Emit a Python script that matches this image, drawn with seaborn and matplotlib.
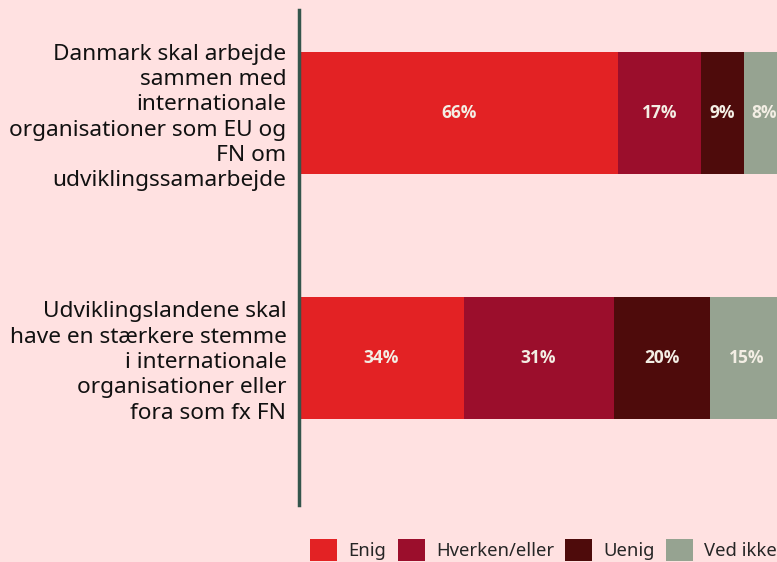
import matplotlib
matplotlib.use("Agg")
import matplotlib.pyplot as plt
import seaborn as sns
import numpy as np
import pandas as pd
from matplotlib.patches import Patch

categories = [
    "Danmark skal arbejde\nsammen med\ninternationale\norganisationer som EU og\nFN om\nudviklingssamarbejde",
    "Udviklingslandene skal\nhave en stærkere stemme\ni internationale\norganisationer eller\nfora som fx FN",
]
series = ["Enig", "Hverken/eller", "Uenig", "Ved ikke"]
enig = [66, 34]
hverken = [17, 31]
uenig = [9, 20]
ved_ikke = [8, 15]
colors = ["#E32224", "#9B0E2C", "#4E0B0B", "#96A391"]

bg = "#FFE1E1"
sns.set_theme(style="white")
plt.rcParams["font.family"] = ["Noto Sans", "DejaVu Sans"]

values = np.array([enig, hverken, uenig, ved_ikke], dtype=float)
cum = np.cumsum(values, axis=0)

fig = plt.figure(figsize=(7.77, 5.62), dpi=100, facecolor=bg)
ax = fig.add_axes([299 / 777, 1 - 505 / 562, 484 / 777, 495 / 562])
ax.set_facecolor(bg)

for i in reversed(range(len(series))):
    df = pd.DataFrame({"cat": categories, "val": cum[i]})
    sns.barplot(data=df, y="cat", x="val", color=colors[i], width=0.5,
                saturation=1, ax=ax, orient="h", linewidth=0, edgecolor="none")

for j in range(len(categories)):
    for i in range(len(series)):
        start = cum[i][j] - values[i][j]
        ax.text(start + values[i][j] / 2, j, f"{int(values[i][j])}%",
                ha="center", va="center", color="#F3EEE4",
                fontsize=12.5, fontweight="bold", family=["Open Sans", "DejaVu Sans"])

ax.set_xlim(0, 100)
ax.set_ylim(1.6, -0.42)
ax.set_xlabel("")
ax.set_ylabel("")
ax.set_xticks([])
ax.tick_params(axis="y", length=0, pad=9)
for lab in ax.get_yticklabels():
    lab.set_fontsize(16.3)
    lab.set_color("#111111")
    lab.set_ha("right")
    lab.set_multialignment("right")
    lab.set_linespacing(1.27)
for s in ["top", "right", "bottom"]:
    ax.spines[s].set_visible(False)
ax.spines["left"].set_color("#34554C")
ax.spines["left"].set_linewidth(2.5)

handles = [Patch(facecolor=c, edgecolor="none", label=s) for c, s in zip(colors, series)]
fig.legend(handles=handles, loc="upper left", bbox_to_anchor=(303 / 777, 1 - 532 / 562),
           ncol=4, frameon=False, fontsize=13.3, handlelength=1.46, handleheight=1.45,
           columnspacing=0.62, handletextpad=0.6, borderaxespad=0)

fig.savefig("out.png", dpi=100, facecolor=bg)
